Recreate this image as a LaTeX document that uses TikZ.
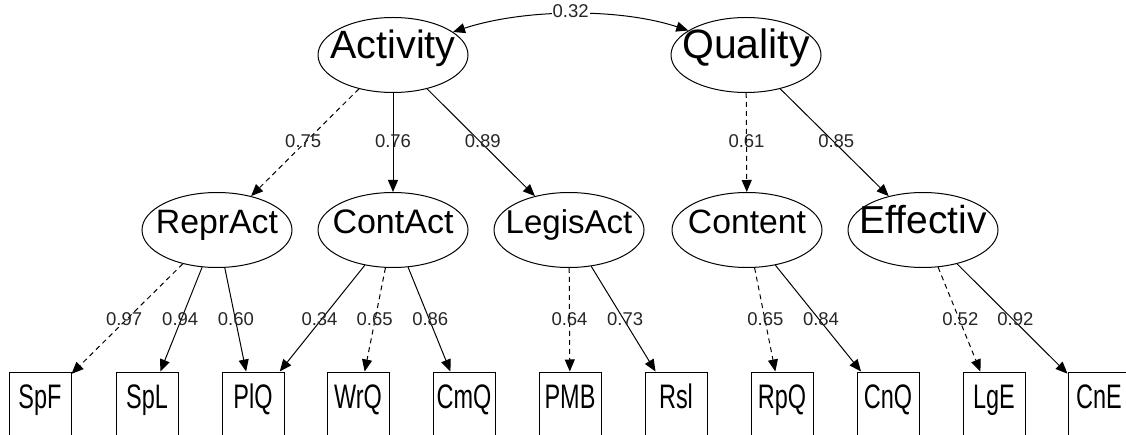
\documentclass[tikz,border=0pt]{standalone}
\usepackage{fontspec}
\setmainfont{Liberation Sans}
\usepackage{graphicx}
\usetikzlibrary{shapes.geometric,arrows.meta,calc}
\newcommand{\fsz}[1]{\fontsize{#1}{#1}\selectfont}
\newcommand{\cond}[1]{\scalebox{0.69}[1]{#1}}
\begin{document}
\begin{tikzpicture}[x=1pt,y=-1pt,
  lat/.style={ellipse, draw, line width=1pt, minimum width=150pt, minimum height=75pt, inner sep=0pt},
  latext/.style={inner sep=0pt, text height=0.72em, text depth=0pt},
  obs/.style={draw, line width=1pt, minimum width=62pt, minimum height=66pt, inner sep=0pt, font=\fsz{34}, text height=0.72em, text depth=0.06em},
  load/.style={line width=1pt, -{Triangle[length=12pt,width=10pt]}},
  fixload/.style={load, dash pattern=on 5pt off 4pt},
  wlab/.style={font=\fsz{18.5}, text=black!85, inner sep=0pt, text height=0.72em, text depth=0pt}
]
\useasboundingbox (0,0) rectangle (1126,435);

% latent factors
\node[lat, label={[latext,font=\fsz{39.5}]center:Activity}] (act) at (393,55) {};
\node[lat, label={[latext,font=\fsz{41}]center:Quality}] (qual) at (746,55) {};

\node[lat, label={[latext,font=\fsz{33.8}]center:ReprAct}] (repr) at (217,230) {};
\node[lat, label={[latext,font=\fsz{34}]center:ContAct}] (cont) at (393,230) {};
\node[lat, label={[latext,font=\fsz{33}]center:LegisAct}] (legis) at (569,230) {};
\node[lat, label={[latext,font=\fsz{33.7}]center:Content}] (content) at (747,230) {};
\node[lat, label={[latext,font=\fsz{39}]center:Effectiv}] (eff) at (923,230) {};

% observed variables
\node[obs] (spf) at (40,405) {\cond{SpF}};
\node[obs] (spl) at (147,405) {\cond{SpL}};
\node[obs] (plq) at (253,405) {\cond{PlQ}};
\node[obs] (wrq) at (358,405) {\cond{WrQ}};
\node[obs] (cmq) at (464,405) {\cond{CmQ}};
\node[obs] (pmb) at (570,405) {\cond{PMB}};
\node[obs] (rsl) at (676,405) {\cond{Rsl}};
\node[obs] (rpq) at (782,405) {\cond{RpQ}};
\node[obs] (cnq) at (888,405) {\cond{CnQ}};
\node[obs] (lge) at (994,405) {\cond{LgE}};
\node[obs] (cne) at (1099,405) {\cond{CnE}};

% covariance
\draw[line width=1pt, {Triangle[length=12pt,width=10pt]}-{Triangle[length=12pt,width=10pt]}]
  (act.21) .. controls +(70,-23) and +(-70,-23) .. node[midway, wlab, fill=white, inner sep=1pt] {0.32} (qual.157);

% second-order loadings
\draw[fixload] (act) -- (repr);
\draw[load] (act) -- (cont);
\draw[load] (act) -- (legis);
\draw[fixload] (qual) -- (content);
\draw[load] (qual) -- (eff);

% first-order loadings
\draw[fixload] (repr) -- (spf);
\draw[load] (repr) -- (spl);
\draw[load] (repr) -- (plq);
\draw[load] (cont) -- (plq);
\draw[fixload] (cont) -- (wrq);
\draw[load] (cont) -- (cmq);
\draw[fixload] (legis) -- (pmb);
\draw[load] (legis) -- (rsl);
\draw[fixload] (content) -- (rpq);
\draw[load] (content) -- (cnq);
\draw[fixload] (eff) -- (lge);
\draw[load] (eff) -- (cne);

% labels
\node[wlab] at ($(act)!0.51!(repr)$) {0.75};
\node[wlab] at ($(act)!0.51!(cont)$) {0.76};
\node[wlab] at ($(act)!0.51!(legis)$) {0.89};
\node[wlab] at ($(qual)!0.51!(content)$) {0.61};
\node[wlab] at ($(qual)!0.51!(eff)$) {0.85};

\node[wlab] at ($(repr)!0.525!(spf)$) {0.97};
\node[wlab] at ($(repr)!0.525!(spl)$) {0.94};
\node[wlab] at ($(repr)!0.525!(plq)$) {0.60};
\node[wlab] at ($(cont)!0.525!(plq)$) {0.34};
\node[wlab] at ($(cont)!0.525!(wrq)$) {0.65};
\node[wlab] at ($(cont)!0.525!(cmq)$) {0.86};
\node[wlab] at ($(legis)!0.525!(pmb)$) {0.64};
\node[wlab] at ($(legis)!0.525!(rsl)$) {0.73};
\node[wlab] at ($(content)!0.525!(rpq)$) {0.65};
\node[wlab] at ($(content)!0.525!(cnq)$) {0.84};
\node[wlab] at ($(eff)!0.525!(lge)$) {0.52};
\node[wlab] at ($(eff)!0.525!(cne)$) {0.92};
\end{tikzpicture}
\end{document}
